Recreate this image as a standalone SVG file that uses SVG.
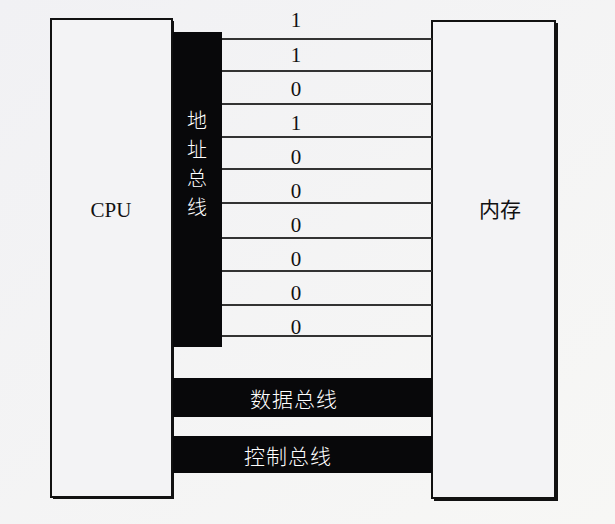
<svg xmlns="http://www.w3.org/2000/svg" width="615" height="524" viewBox="0 0 615 524">
<defs>
<linearGradient id="bg" x1="0" y1="0" x2="1" y2="1">
<stop offset="0" stop-color="#f1f1f4"/>
<stop offset="1" stop-color="#f7f7f5"/>
</linearGradient>
<style>
.box{fill:#f3f3f5;stroke:#111;stroke-width:2}
.shadow{fill:#111}
.bus{fill:#08080a}
.wire{stroke:#333;stroke-width:2}
.num{font-family:"Liberation Serif",serif;font-size:21px;fill:#111;text-anchor:middle}
.lbl{font-family:"Liberation Serif","Noto Sans CJK SC",serif;font-size:21px;fill:#111;text-anchor:middle}
.wt{font-family:"Noto Sans CJK SC",sans-serif;font-size:20px;fill:#fff;text-anchor:middle;font-weight:300}
.wh{font-family:"Noto Sans CJK SC",sans-serif;font-size:21px;fill:#fff;text-anchor:middle;letter-spacing:1px;font-weight:300}
</style>
</defs>
<rect width="615" height="524" fill="url(#bg)"/>
<g id="cpu">
<rect class="shadow" x="53" y="21" width="121" height="478"/>
<rect class="box" x="51" y="19" width="121" height="478"/>
<text class="lbl" x="111" y="217">CPU</text>
</g>
<g id="memory">
<rect class="shadow" x="434" y="23" width="124" height="478"/>
<rect class="box" x="432" y="21" width="123" height="477"/>
<text class="lbl" x="500" y="217">内存</text>
</g>
<g id="address-bus">
<rect class="bus" x="173" y="32" width="49" height="315"/>
<text class="wt" x="197" y="128">地</text>
<text class="wt" x="197" y="157">址</text>
<text class="wt" x="197" y="186">总</text>
<text class="wt" x="197" y="215">线</text>
</g>
<g id="connectors">
<line class="wire" x1="222" y1="39" x2="432" y2="39"/>
<line class="wire" x1="222" y1="71" x2="432" y2="71"/>
<line class="wire" x1="222" y1="104" x2="432" y2="104"/>
<line class="wire" x1="222" y1="137" x2="432" y2="137"/>
<line class="wire" x1="222" y1="169" x2="432" y2="169"/>
<line class="wire" x1="222" y1="203" x2="432" y2="203"/>
<line class="wire" x1="222" y1="238" x2="432" y2="238"/>
<line class="wire" x1="222" y1="271" x2="432" y2="271"/>
<line class="wire" x1="222" y1="305" x2="432" y2="305"/>
<line class="wire" x1="222" y1="336" x2="432" y2="336"/>
</g>
<g id="bits">
<text class="num" x="296" y="27">1</text>
<text class="num" x="296" y="62">1</text>
<text class="num" x="296" y="96">0</text>
<text class="num" x="296" y="130">1</text>
<text class="num" x="296" y="164">0</text>
<text class="num" x="296" y="198">0</text>
<text class="num" x="296" y="232">0</text>
<text class="num" x="296" y="266">0</text>
<text class="num" x="296" y="300">0</text>
<text class="num" x="296" y="334">0</text>
</g>
<g id="data-bus">
<rect class="bus" x="173" y="378" width="259" height="39"/>
<text class="wh" x="294" y="407">数据总线</text>
</g>
<g id="control-bus">
<rect class="bus" x="173" y="436" width="259" height="37"/>
<text class="wh" x="288" y="464">控制总线</text>
</g>
</svg>
